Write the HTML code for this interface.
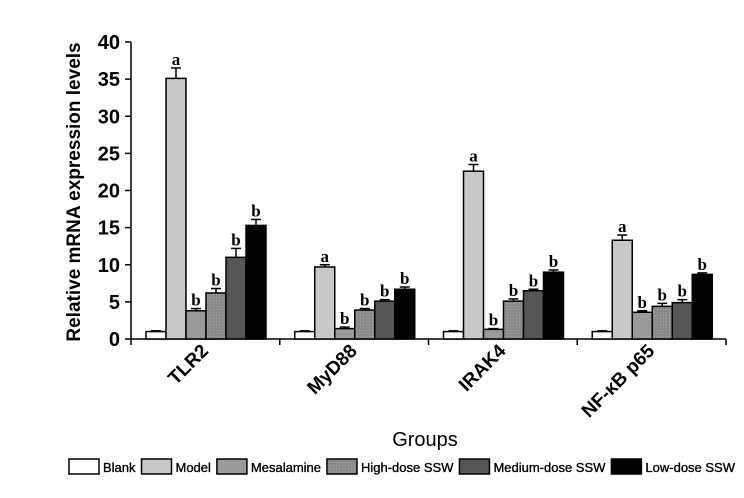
<!DOCTYPE html>
<html><head><meta charset="utf-8"><style>
body{margin:0;background:#fff;}
svg text{font-family:"Liberation Sans",sans-serif;}
</style></head><body>
<svg id="chart" width="744" height="493">
<defs>
<pattern id="dots" width="3" height="3" patternUnits="userSpaceOnUse">
<rect width="3" height="3" fill="#8a8a8a"/><rect width="1" height="1" fill="#a5a5a5"/>
</pattern>
</defs>
<g id="plot"></g>
<text x="80" y="192" transform="rotate(-90 80 192)" text-anchor="middle" font-size="19" font-weight="bold">Relative mRNA expression levels</text>
<text x="425" y="446" text-anchor="middle" font-size="20">Groups</text>
<g id="legend"></g>
</svg>
<script>
const categories=["TLR2","MyD88","IRAK4","NF-\u03BAB p65"];
const seriesNames=["Blank","Model","Mesalamine","High-dose SSW","Medium-dose SSW","Low-dose SSW"];
const blank=[1,1,1,1];
const model=[35.1,9.7,22.6,13.3];
const mesalamine=[3.8,1.4,1.3,3.6];
const highDose=[6.2,3.9,5.1,4.4];
const mediumDose=[11,5.1,6.5,4.9];
const lowDose=[15.3,6.7,9,8.7];
const errBlank=[0.1,0.1,0.1,0.1];
const errModel=[1.4,0.3,0.9,0.7];
const errMes=[0.3,0.2,0.1,0.2];
const errHigh=[0.6,0.2,0.3,0.4];
const errMed=[1.2,0.2,0.2,0.4];
const errLow=[0.8,0.3,0.3,0.2];
const sigLetters=[["","a","b","b","b","b"],["","a","b","b","b","b"],["","a","b","b","b","b"],["","a","b","b","b","b"]];
const yTicks=[0,5,10,15,20,25,30,35,40];

const series=[blank,model,mesalamine,highDose,mediumDose,lowDose];
const errs=[errBlank,errModel,errMes,errHigh,errMed,errLow];
const fills=["#fff","#c8c8c8","#9a9a9a","url(#dots)","#555","#000"];
const NS="http://www.w3.org/2000/svg";
const x0=131,x1=726,y0=339,yTop=42,yMax=40;
const gw=(x1-x0)/categories.length,bw=20,off=15;
const ys=v=>y0-(v/yMax)*(y0-yTop);
const plot=document.getElementById('plot');
function mk(t,a,p){const e=document.createElementNS(NS,t);for(const k in a)e.setAttribute(k,a[k]);(p||plot).appendChild(e);return e;}
let ya=mk('line',{x1:x0,y1:y0,x2:x0,y2:yTop,stroke:'#000','stroke-width':1.5});


let xa=mk('line',{x1:x0,y1:y0,x2:x1,y2:y0,stroke:'#000','stroke-width':1.5});


yTicks.forEach(t=>{
 const y=ys(t);
 mk('line',{x1:x0-6,y1:y,x2:x0,y2:y,stroke:'#000','stroke-width':1.5});
 const tx=mk('text',{x:x0-11,y:y+7,'text-anchor':'end','font-size':20,'font-weight':'bold'});
 tx.textContent=t;
 
 
});
for(let i=0;i<=categories.length;i++){
 const x=x0+i*gw;
 mk('line',{x1:x,y1:y0,x2:x,y2:y0+6,stroke:'#000','stroke-width':1.5});
}
categories.forEach((c,i)=>{
 const gx=x0+i*gw;
 series.forEach((s,j)=>{
  const v=s[i],x=gx+off+j*bw,y=ys(v);
  const r=mk('rect',{x:x,y:y,width:bw,height:y0-y,fill:fills[j],stroke:'#000','stroke-width':1.5});
  
  
  const e=errs[j][i],ye=ys(v+e),cx=x+bw/2;
  mk('line',{x1:cx,y1:y,x2:cx,y2:ye,stroke:'#000','stroke-width':1.5});
  mk('line',{x1:cx-5,y1:ye,x2:cx+5,y2:ye,stroke:'#000','stroke-width':1.5});
  if(sigLetters[i][j]){
   const l=mk('text',{x:cx,y:ye-3,'text-anchor':'middle','font-size':17,'font-weight':'bold',style:'font-family:"Liberation Serif",serif'});
   l.textContent=sigLetters[i][j];
   
   
  }
 });
 const cx=gx+gw/2+4,cy=352;
 const lab=mk('text',{x:cx,y:cy,'text-anchor':'end','font-size':19,'font-weight':'bold',transform:`rotate(-45 ${cx} ${cy})`});
 lab.textContent=c;
 
 
});
const lg=document.getElementById('legend');
const items=[];
seriesNames.forEach((n,j)=>{
 const g=mk('g',{},lg);
 
 
 const r=mk('rect',{x:0,y:459,width:30,height:15,fill:fills[j],stroke:'#000','stroke-width':1.5},g);
 const t=mk('text',{x:0,y:472,'font-size':13,stroke:'#000','stroke-width':0.35},g);
 t.textContent=n;
 items.push([r,t,t.getComputedTextLength()]);
});
const total=items.reduce((a,it)=>a+34+it[2],0);
const gap=(735-69-total)/(items.length-1);
let x=69;
items.forEach(([r,t,w])=>{r.setAttribute('x',x);t.setAttribute('x',x+34);x+=34+w+gap;});
</script>
</body></html>
